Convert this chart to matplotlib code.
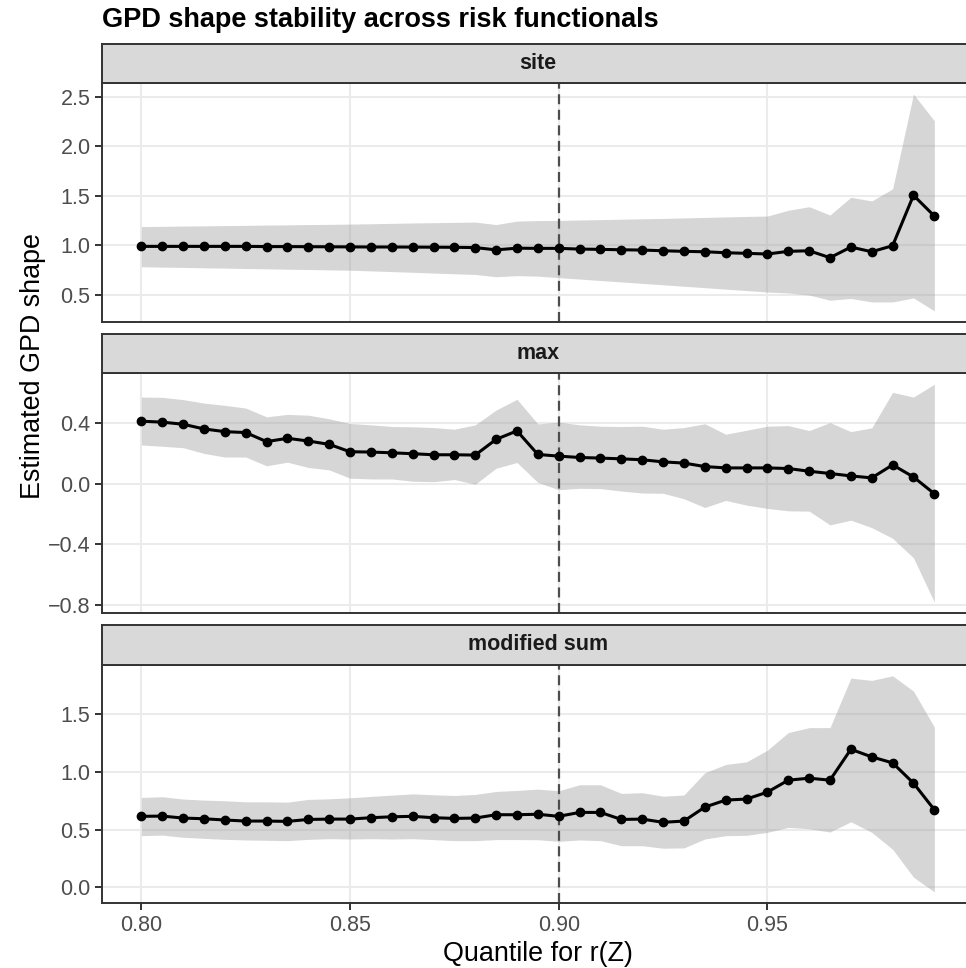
import matplotlib
matplotlib.use("Agg")
import matplotlib.pyplot as plt
import numpy as np

plt.rcParams["font.family"] = ["Liberation Sans", "DejaVu Sans"]

# quantile grid used for the threshold
quantiles = [0.800, 0.805, 0.810, 0.815, 0.820, 0.825, 0.830, 0.835, 0.840, 0.845,
             0.850, 0.855, 0.860, 0.865, 0.870, 0.875, 0.880, 0.885, 0.890, 0.895,
             0.900, 0.905, 0.910, 0.915, 0.920, 0.925, 0.930, 0.935, 0.940, 0.945,
             0.950, 0.955, 0.960, 0.965, 0.970, 0.975, 0.980, 0.985, 0.990]

panels = ["site", "max", "modified sum"]

site_est = [0.990, 0.990, 0.990, 0.990, 0.990, 0.990, 0.988, 0.988, 0.987, 0.986,
            0.985, 0.984, 0.984, 0.983, 0.982, 0.981, 0.978, 0.955, 0.972, 0.970,
            0.970, 0.963, 0.960, 0.956, 0.953, 0.946, 0.940, 0.936, 0.926, 0.920,
            0.913, 0.940, 0.946, 0.876, 0.983, 0.936, 0.997, 1.505, 1.296]
site_hi = [1.190, 1.192, 1.195, 1.197, 1.200, 1.202, 1.205, 1.207, 1.210, 1.212,
           1.215, 1.218, 1.222, 1.226, 1.229, 1.232, 1.235, 1.210, 1.245, 1.250,
           1.252, 1.256, 1.260, 1.264, 1.268, 1.272, 1.277, 1.282, 1.287, 1.292,
           1.296, 1.354, 1.390, 1.306, 1.485, 1.448, 1.570, 2.525, 2.256]
site_lo = [0.785, 0.781, 0.778, 0.774, 0.771, 0.767, 0.764, 0.760, 0.757, 0.753,
           0.750, 0.743, 0.736, 0.729, 0.721, 0.714, 0.707, 0.684, 0.695, 0.690,
           0.675, 0.661, 0.646, 0.632, 0.617, 0.603, 0.588, 0.574, 0.559, 0.545,
           0.530, 0.520, 0.500, 0.447, 0.465, 0.430, 0.430, 0.470, 0.340]

max_est = [0.413, 0.407, 0.393, 0.362, 0.344, 0.338, 0.278, 0.300, 0.282, 0.260,
           0.211, 0.209, 0.204, 0.198, 0.191, 0.191, 0.189, 0.293, 0.349, 0.193,
           0.182, 0.173, 0.169, 0.164, 0.158, 0.144, 0.136, 0.113, 0.104, 0.104,
           0.104, 0.100, 0.082, 0.067, 0.051, 0.038, 0.124, 0.044, -0.067]
max_hi = [0.573, 0.571, 0.556, 0.533, 0.518, 0.500, 0.442, 0.458, 0.453, 0.429,
          0.398, 0.389, 0.378, 0.376, 0.371, 0.360, 0.389, 0.487, 0.558, 0.395,
          0.407, 0.389, 0.380, 0.378, 0.380, 0.360, 0.371, 0.396, 0.327, 0.353,
          0.380, 0.384, 0.351, 0.404, 0.344, 0.369, 0.604, 0.573, 0.658]
max_lo = [0.256, 0.247, 0.238, 0.200, 0.176, 0.176, 0.118, 0.142, 0.107, 0.091,
          0.036, 0.031, 0.031, 0.016, 0.013, 0.027, -0.004, 0.102, 0.140, 0.008,
          -0.040, -0.031, -0.033, -0.049, -0.062, -0.064, -0.100, -0.158, -0.111, -0.142,
          -0.164, -0.180, -0.182, -0.273, -0.242, -0.291, -0.362, -0.491, -0.784]

msum_est = [0.615, 0.617, 0.600, 0.594, 0.583, 0.574, 0.574, 0.571, 0.588, 0.591,
            0.591, 0.603, 0.611, 0.615, 0.603, 0.597, 0.600, 0.629, 0.629, 0.633,
            0.615, 0.649, 0.649, 0.588, 0.591, 0.563, 0.574, 0.695, 0.756, 0.765,
            0.825, 0.929, 0.946, 0.929, 1.197, 1.131, 1.079, 0.903, 0.672]
msum_hi = [0.779, 0.785, 0.765, 0.756, 0.750, 0.741, 0.741, 0.738, 0.762, 0.767,
           0.776, 0.788, 0.799, 0.810, 0.802, 0.796, 0.805, 0.831, 0.840, 0.851,
           0.837, 0.889, 0.889, 0.814, 0.820, 0.790, 0.800, 0.993, 1.065, 1.088,
           1.189, 1.342, 1.385, 1.385, 1.815, 1.795, 1.835, 1.702, 1.390]
msum_lo = [0.447, 0.452, 0.433, 0.424, 0.415, 0.410, 0.407, 0.404, 0.415, 0.421,
           0.418, 0.421, 0.418, 0.421, 0.413, 0.404, 0.404, 0.413, 0.413, 0.412,
           0.398, 0.410, 0.404, 0.360, 0.360, 0.338, 0.341, 0.418, 0.447, 0.450,
           0.476, 0.519, 0.507, 0.479, 0.568, 0.476, 0.329, 0.087, -0.041]

y_ticks = [[0.5, 1.0, 1.5, 2.0, 2.5],
           [-0.8, -0.4, 0.0, 0.4],
           [0.0, 0.5, 1.0, 1.5]]
x_ticks = [0.80, 0.85, 0.90, 0.95]
chosen_q = 0.90

estimates = [site_est, max_est, msum_est]
uppers = [site_hi, max_hi, msum_hi]
lowers = [site_lo, max_lo, msum_lo]

W, H = 966, 968
fig = plt.figure(figsize=(W / 100, H / 100), dpi=100)

left, right = 101.7, 974.0
# (strip top, panel top, panel bottom) in pixels from the top
rows = [(43.7, 83.3, 321.7), (334.3, 373.3, 613.0), (625.0, 665.0, 902.7)]

def frac_box(x0, x1, top, bottom):
    return [x0 / W, 1 - bottom / H, (x1 - x0) / W, (bottom - top) / H]

border = "#333333"
for i, name in enumerate(panels):
    s_top, p_top, p_bot = rows[i]
    ax = fig.add_axes(frac_box(left, right, p_top, p_bot))
    ax.set_facecolor("white")
    ax.grid(True, color="#EBEBEB", linewidth=1.5, zorder=0)
    ax.set_axisbelow(True)
    ax.fill_between(quantiles, lowers[i], uppers[i], color="#999999", alpha=0.4,
                    linewidth=0, zorder=1)
    vl = ax.axvline(chosen_q, color="#4D4D4D", linewidth=1.6, zorder=2)
    vl.set_dashes([4.5, 2.5])
    ax.plot(quantiles, estimates[i], color="black", linewidth=2.2, zorder=3)
    ax.plot(quantiles, estimates[i], "o", color="black", markersize=6, zorder=4)
    ax.margins(x=0.05, y=0.05)
    ax.set_yticks(y_ticks[i])
    ax.set_yticklabels([f"{v:.1f}".replace("-", "\u2212") for v in y_ticks[i]])
    ax.set_xticks(x_ticks)
    ax.tick_params(axis="y", length=5, width=1.4, color=border, pad=3,
                   labelsize=15.5, labelcolor="#4D4D4D")
    if i == 2:
        ax.set_xticklabels([f"{v:.2f}" for v in x_ticks])
        ax.tick_params(axis="x", length=5, width=1.4, color=border, pad=4,
                       labelsize=15.5, labelcolor="#4D4D4D")
    else:
        ax.tick_params(axis="x", length=0, labelbottom=False)
    for sp in ax.spines.values():
        sp.set_color(border)
        sp.set_linewidth(1.4)

    # facet strip
    st = fig.add_axes(frac_box(left, right, s_top, p_top))
    st.set_facecolor("#D9D9D9")
    st.set_xticks([])
    st.set_yticks([])
    for sp in st.spines.values():
        sp.set_color(border)
        sp.set_linewidth(1.4)
    st.text((538 - left) / (right - left), 0.5, name, transform=st.transAxes,
            ha="center", va="center", fontsize=15.5, fontweight="bold",
            color="#1A1A1A")

fig.text(left / W, 1 - 27 / H, "GPD shape stability across risk functionals",
         ha="left", va="baseline", fontsize=19.5, fontweight="bold", color="black")
fig.text(538 / W, 1 - 961 / H, "Quantile for r(Z)", ha="center", va="baseline",
         fontsize=19.4, color="black")
fig.text(33 / W, 1 - 493 / H, "Estimated GPD shape", ha="center", va="baseline",
         rotation=90, fontsize=19.4, color="black")

fig.savefig("out.png", dpi=100, facecolor="white")
